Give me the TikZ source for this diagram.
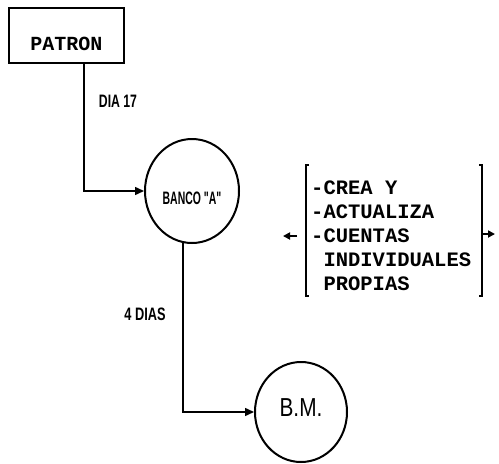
\documentclass[tikz,border=0pt]{standalone}
\usepackage{fontspec}
\usepackage{graphicx}
\setmainfont{Liberation Sans}
\newfontfamily\monofam{Liberation Mono}
\usetikzlibrary{shapes.geometric,arrows.meta}
\begin{document}
\begin{tikzpicture}[x=1pt,y=-1pt,
  conn/.style={line width=1.5pt,-{Triangle[length=9pt,width=8pt]}},
  smallarrow/.style={line width=2pt,-{Triangle[length=7pt,width=7pt]}},
  plain/.style={line width=1.5pt},
  circ/.style={ellipse,draw,line width=2pt,inner sep=0pt},
  lbl/.style={font=\fontsize{18}{18}\selectfont\bfseries,inner sep=0pt},
  boxtext/.style={font=\fontsize{20}{20}\selectfont\monofam\bfseries,inner sep=0pt},
  list/.style={font=\fontsize{20.5}{24}\selectfont\monofam\bfseries,align=left,inner sep=0pt,anchor=west}]
\fill[white] (0,0) rectangle (499,464);
\useasboundingbox (0,0) rectangle (499,464);
% nodes
\node[draw,line width=2.8pt,minimum width=115pt,minimum height=55pt,inner sep=0pt,
  label={[boxtext,yshift=-8.5pt]center:PATRON}] (patron) at (66.5,35.5) {};
\node[circ,minimum width=94pt,minimum height=104pt,
  label={[lbl,yshift=-7pt]center:\scalebox{0.58}[1]{BANCO \textquotedbl A\textquotedbl}}] (banco) at (192,191) {};
\node[circ,minimum width=92pt,minimum height=100pt,
  label={[font=\fontsize{26}{26}\selectfont,inner sep=0pt,yshift=4pt]center:\scalebox{0.8}[1]{B.M.}}] (bm) at (301,412) {};
\node[lbl] (dia) at (118,101) {\scalebox{0.68}[1]{DIA 17}};
\node[lbl] (cuatro) at (145,314) {\scalebox{0.71}[1]{4 DIAS}};
\node[list] (desc) at (311,236) {-CREA Y\\-ACTUALIZA\\-CUENTAS\\\phantom{-}INDIVIDUALES\\\phantom{-}PROPIAS};
% connectors
\draw[conn] ([xshift=17.5pt]patron.south) |- (banco.west);
\draw[conn] (banco.260) |- (bm.west);
% brackets
\draw[plain] (309,165) -- (306,165) -- (306,296) -- (309,296);
\draw[plain] (479,165) -- (482,165) -- (482,296) -- (479,296);
\coordinate (la) at (297,236);
\coordinate (lb) at (283,236);
\coordinate (ra) at (483,234);
\coordinate (rb) at (495,234);
\draw[smallarrow] (la) -- (lb);
\draw[smallarrow] (ra) -- (rb);
\end{tikzpicture}
\end{document}
